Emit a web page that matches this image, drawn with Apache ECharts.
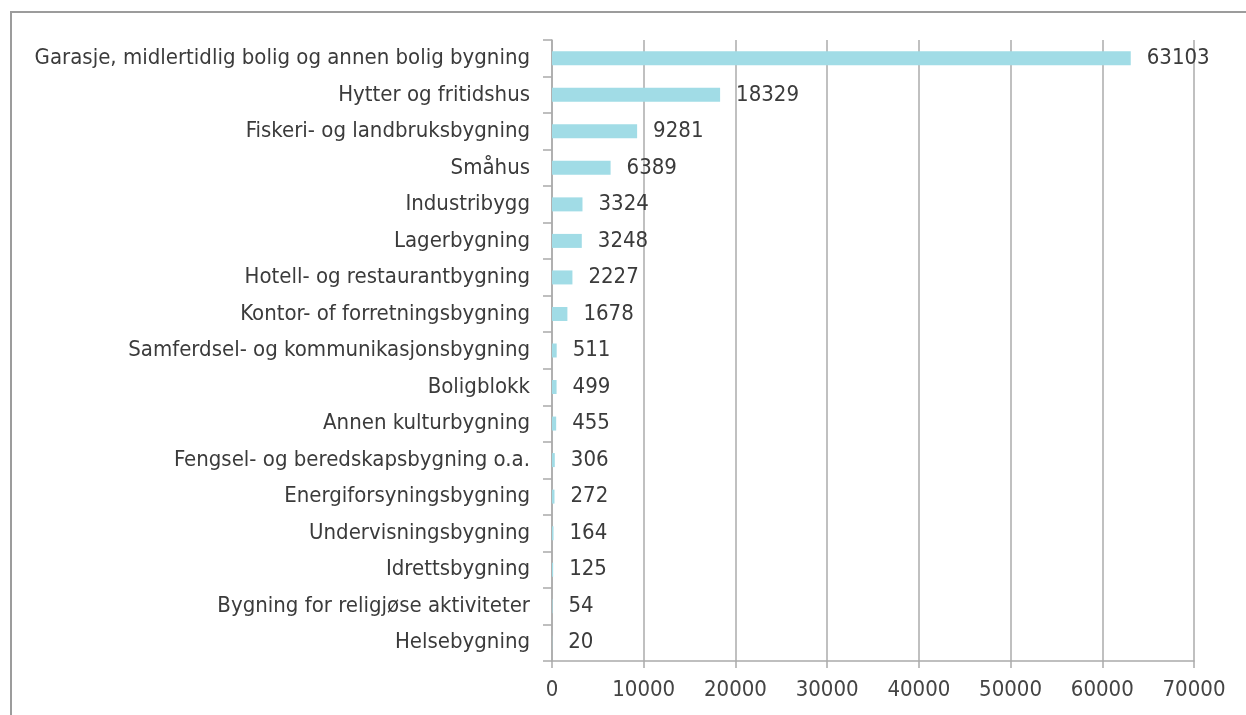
<!DOCTYPE html>
<html>

<head>
    <meta charset="utf-8">
    <script src="https://cdn.jsdelivr.net/npm/echarts@6/dist/echarts.min.js"></script>
    <style>
        body { margin: 0; background: #fff; }
        #frame {
            position: absolute; left: 10px; top: 11px; right: 0; bottom: 0;
            border-top: 2px solid #9c9c9c; border-left: 2px solid #9c9c9c;
        }
    </style>
</head>

<body>
<div id="frame"></div>
<div id="main" style="position:absolute;top:0;left:0;width:1246px;height:715px;"></div>
<script type="text/javascript">
    // kategorier, ovenfra og ned
    var categories = [
        'Garasje, midlertidlig bolig og annen bolig bygning',
        'Hytter og fritidshus',
        'Fiskeri- og landbruksbygning',
        'Småhus',
        'Industribygg',
        'Lagerbygning',
        'Hotell- og restaurantbygning',
        'Kontor- of forretningsbygning',
        'Samferdsel- og kommunikasjonsbygning',
        'Boligblokk',
        'Annen kulturbygning',
        'Fengsel- og beredskapsbygning o.a.',
        'Energiforsyningsbygning',
        'Undervisningsbygning',
        'Idrettsbygning',
        'Bygning for religjøse aktiviteter',
        'Helsebygning'
    ];
    var values = [63103, 18329, 9281, 6389, 3324, 3248, 2227, 1678, 511, 499, 455, 306, 272, 164, 125, 54, 20];

    var font = '"DejaVu Sans Condensed", "DejaVu Sans", sans-serif';
    var textColor = '#3b3b3b';
    var lineColor = '#ababab';

    var myChart = echarts.init(document.getElementById('main'));
    myChart.setOption({
        animation: false,
        grid: {left: 552, right: 52, top: 40, bottom: 54},
        xAxis: {
            type: 'value',
            min: 0,
            max: 70000,
            interval: 10000,
            axisLine: {show: true, lineStyle: {color: lineColor, width: 1.5}},
            axisTick: {show: true, length: 7, lineStyle: {color: lineColor, width: 1.5}},
            splitLine: {show: true, lineStyle: {color: lineColor, width: 1.5}},
            axisLabel: {
                color: '#444', fontFamily: font, fontSize: 22, margin: 18,
                formatter: function (v) { return String(v); }
            }
        },
        yAxis: {
            type: 'category',
            inverse: true,
            data: categories,
            axisLine: {show: true, lineStyle: {color: lineColor, width: 1.5}},
            axisTick: {show: true, length: 9, lineStyle: {color: lineColor, width: 1.5}},
            axisLabel: {color: textColor, fontFamily: font, fontSize: 22, margin: 22}
        },
        series: [{
            type: 'bar',
            data: values,
            barWidth: 14,
            itemStyle: {color: '#a1dce6'},
            label: {
                show: true,
                position: 'right',
                distance: 16,
                color: textColor,
                fontFamily: font,
                fontSize: 22
            }
        }]
    });
</script>
</body>

</html>
